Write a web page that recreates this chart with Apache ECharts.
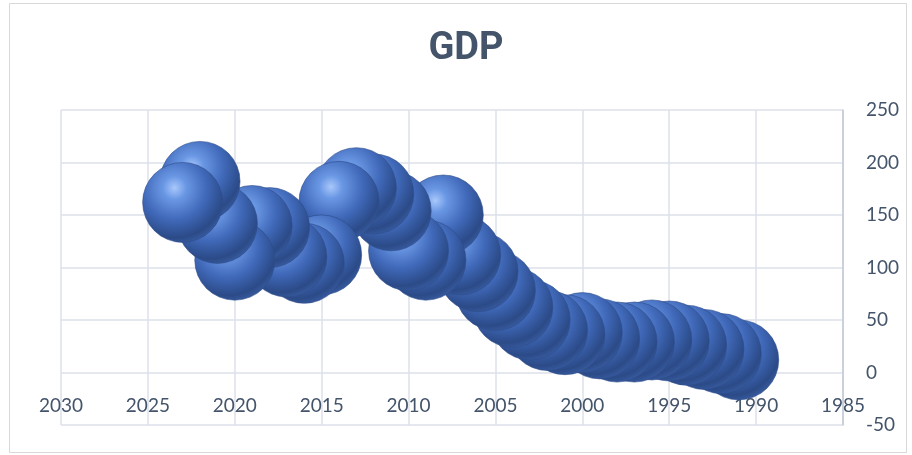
<!DOCTYPE html>
<html>
<head>
<meta charset="utf-8">
<script src="https://cdn.jsdelivr.net/npm/echarts@6/dist/echarts.min.js"></script>
<style>html,body{margin:0;padding:0;background:#fff}#c{width:912px;height:455px}</style>
</head>
<body>
<div id="c"></div>
<script>
var years = [1991,1992,1993,1994,1995,1996,1997,1998,1999,2000,2001,2002,2003,2004,2005,2006,2007,2008,2009,2010,2011,2012,2013,2014,2015,2016,2017,2018,2019,2020,2021,2022,2023];
var gdp   = [12,18,22,26,30,31,29,29,32,38,36,40,50,62,78,96,112,150,107,116,154,170,176,163,112,104,110,138,140,107,142,182,162];
var xTicks = {min:1985, max:2030, step:5};
var yTicks = {min:-50, max:250, step:50};

var chart = echarts.init(document.getElementById('c'), null, {renderer:'canvas'});
var pts = years.map(function(y,i){return [y, gdp[i]];});
var sphere = new echarts.graphic.RadialGradient(0.4, 0.32, 0.72, [
  {offset:0, color:'#a9c8fb'},
  {offset:0.2, color:'#6a97e4'},
  {offset:0.55, color:'#4069b9'},
  {offset:0.86, color:'#2b4a87'},
  {offset:1, color:'#3a5ea3'}
]);
var labelStyle = {color:'#44546a', fontFamily:'Lato', fontSize:19};
chart.setOption({
  animation:false,
  title:{text:'GDP', left:461, top:25, textAlign:'center',
    textStyle:{fontFamily:'Roboto', fontWeight:'bold', fontSize:38, color:'#44546a'}},
  grid:{left:61, right:69, top:110, bottom:30, containLabel:false, outerBoundsMode:'none'},
  xAxis:{type:'value', inverse:true, min:xTicks.min, max:xTicks.max, interval:xTicks.step,
    axisLine:{show:false},
    axisTick:{show:false},
    axisLabel:Object.assign({inside:true, margin:10, formatter:function(v){return String(v);}}, labelStyle),
    splitLine:{show:true, lineStyle:{color:'#dde2ea', width:1.5}}},
  yAxis:{type:'value', position:'right', min:yTicks.min, max:yTicks.max, interval:yTicks.step,
    axisLine:{show:true, lineStyle:{color:'#c3cad6', width:1.5}},
    axisTick:{show:false},
    axisLabel:Object.assign({margin:23}, labelStyle),
    splitLine:{show:true, lineStyle:{color:'#dde2ea', width:1.5}}},
  graphic:[{type:'rect', shape:{x:9.5, y:3.5, width:897, height:449},
    style:{fill:'none', stroke:'#d9d9d9', lineWidth:1}, silent:true}],
  series:[{type:'scatter', data:pts, symbolSize:80, z:3,
    itemStyle:{color:sphere, opacity:1, borderColor:'#2d4c8a', borderWidth:0.6}}]
});
</script>
</body>
</html>
